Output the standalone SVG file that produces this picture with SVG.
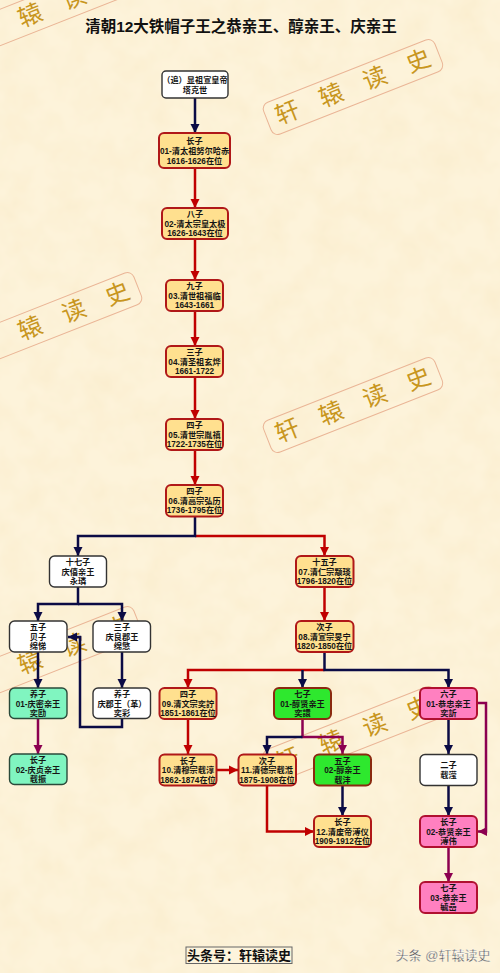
<svg xmlns="http://www.w3.org/2000/svg" width="500" height="973" viewBox="0 0 500 973">
<style>
text{font-family:"Liberation Sans","Noto Sans CJK SC",sans-serif}
.t{font-size:8.2px;font-weight:700;fill:#151515;text-anchor:middle}
.c{fill:none;stroke-width:2.5}
.r{stroke:#c00000}.d{stroke:#0b0b45}.p{stroke:#8c0050}
rect.n{stroke-width:2}
.y{fill:#ffe08f;stroke:#b01818}
.w{fill:#fff;stroke:#333;stroke-width:1.4!important}
.g{fill:#2ee82e;stroke:#8a2a10}
.k{fill:#ff80c0;stroke:#b01030}
.m{fill:#80f5c0;stroke:#2a4a3a;stroke-width:1.4!important}
.wb{fill:none;stroke:#eab596;stroke-width:1}
.wt{font-size:24px;fill:#c8961e;text-anchor:middle}
</style>
<defs>
<filter id="paper" x="0" y="0" width="100%" height="100%">
<feTurbulence type="fractalNoise" baseFrequency="0.035" numOctaves="3" seed="7"/>
<feColorMatrix type="matrix" values="0 0 0 0 0.96  0 0 0 0 0.85  0 0 0 0 0.62  1.5 0 0 0 -0.5"/>
</filter>
<marker id="ar" markerUnits="userSpaceOnUse" markerWidth="10" markerHeight="10" refX="9" refY="5" orient="auto"><path d="M0 .5L9 5L0 9.500Z" fill="#c00000"/></marker>
<marker id="ad" markerUnits="userSpaceOnUse" markerWidth="10" markerHeight="10" refX="9" refY="5" orient="auto"><path d="M0 .5L9 5L0 9.500Z" fill="#0b0b45"/></marker>
<marker id="ap" markerUnits="userSpaceOnUse" markerWidth="10" markerHeight="10" refX="9" refY="5" orient="auto"><path d="M0 .5L9 5L0 9.500Z" fill="#8c0050"/></marker>
<g id="wm">
<rect class="wb" x="-92" y="-17" width="184" height="34" rx="7"/>
<text class="wt" x="-70.500" y="8">轩</text>
<text class="wt" x="-23.500" y="8">辕</text>
<text class="wt" x="23.500" y="8">读</text>
<text class="wt" x="70.500" y="8">史</text>
</g>
</defs>
<rect width="500" height="973" fill="#fdf3da"/>
<rect width="500" height="973" filter="url(#paper)"/>
<g id="watermarks">
<use href="#wm" transform="translate(52,7) rotate(-21.500)"/>
<use href="#wm" transform="translate(353,87) rotate(-21.500)"/>
<use href="#wm" transform="translate(52,320) rotate(-21.500)"/>
<use href="#wm" transform="translate(353,405) rotate(-21.500)"/>
<use href="#wm" transform="translate(52,654) rotate(-21.500)"/>
<use href="#wm" transform="translate(353,734) rotate(-21.500)"/>
</g>
<text x="241" y="31.500" font-size="15.500" font-weight="700" text-anchor="middle" fill="#111">清朝12大铁帽子王之恭亲王、醇亲王、庆亲王</text>
<g id="connectors">
<path class="c d" d="M195 98V133" marker-end="url(#ad)"/>
<path class="c r" d="M195 168V208" marker-end="url(#ar)"/>
<path class="c r" d="M195 239V280" marker-end="url(#ar)"/>
<path class="c r" d="M195 311V346" marker-end="url(#ar)"/>
<path class="c r" d="M195 377V419" marker-end="url(#ar)"/>
<path class="c r" d="M195 450V485" marker-end="url(#ar)"/>
<path class="c r" d="M195 536H324.500V556" marker-end="url(#ar)"/>
<path class="c d" d="M195 517V536H78V556" marker-end="url(#ad)"/>
<path class="c d" d="M78 587V604H38V621" marker-end="url(#ad)"/>
<path class="c d" d="M78 604H122V621" marker-end="url(#ad)"/>
<path class="c d" d="M38 652V688" marker-end="url(#ad)"/>
<path class="c d" d="M122 652V688" marker-end="url(#ad)"/>
<path class="c p" d="M38 719V754" marker-end="url(#ap)"/>
<path class="c d" d="M122 719V727H80V637H68" marker-end="url(#ad)"/>
<path class="c r" d="M324.500 587V621" marker-end="url(#ar)"/>
<path class="c r" d="M324.500 670H188V688" marker-end="url(#ar)"/>
<path class="c d" d="M324.500 652V670H448.500V688" marker-end="url(#ad)"/>
<path class="c d" d="M302.500 670V688" marker-end="url(#ad)"/>
<path class="c r" d="M188 719V754" marker-end="url(#ar)"/>
<path class="c r" d="M217 770H238" marker-end="url(#ar)"/>
<path class="c p" d="M302.500 719V737H342.500V754" marker-end="url(#ap)"/>
<path class="c d" d="M302.500 737H267V754" marker-end="url(#ad)"/>
<path class="c d" d="M342.500 786V816" marker-end="url(#ad)"/>
<path class="c r" d="M267 786V831.500H314" marker-end="url(#ar)"/>
<path class="c d" d="M448.500 719V754" marker-end="url(#ad)"/>
<path class="c d" d="M448.500 785V816" marker-end="url(#ad)"/>
<path class="c p" d="M477 703H486V831.500H478" marker-end="url(#ap)"/>
<path class="c p" d="M448.500 847V882" marker-end="url(#ap)"/>
</g>
<g id="n0"><rect class="n w" x="162" y="71" width="66" height="27" rx="4"/><text class="t"><tspan x="195" y="83">（追）显祖宣皇帝</tspan><tspan x="195" y="93">塔克世</tspan></text></g>
<g id="n1"><rect class="n y" x="159" y="133" width="71" height="35" rx="5"/><text class="t"><tspan x="194.500" y="144">长子</tspan><tspan x="194.500" y="154">01-清太祖努尔哈赤</tspan><tspan x="194.500" y="163.500">1616-1626在位</tspan></text></g>
<g id="n2"><rect class="n y" x="162" y="208" width="66" height="31" rx="5"/><text class="t"><tspan x="195" y="217">八子</tspan><tspan x="195" y="226.500">02-清太宗皇太极</tspan><tspan x="195" y="236">1626-1643在位</tspan></text></g>
<g id="n3"><rect class="n y" x="166" y="280" width="57" height="31" rx="5"/><text class="t"><tspan x="194.500" y="289">九子</tspan><tspan x="194.500" y="298.500">03.清世祖福临</tspan><tspan x="194.500" y="308">1643-1661</tspan></text></g>
<g id="n4"><rect class="n y" x="166" y="346" width="57" height="31" rx="5"/><text class="t"><tspan x="194.500" y="355">三子</tspan><tspan x="194.500" y="364.500">04.清圣祖玄烨</tspan><tspan x="194.500" y="374">1661-1722</tspan></text></g>
<g id="n5"><rect class="n y" x="166" y="419" width="57" height="31" rx="5"/><text class="t"><tspan x="194.500" y="428">四子</tspan><tspan x="194.500" y="437.500">05.清世宗胤禛</tspan><tspan x="194.500" y="447">1722-1735在位</tspan></text></g>
<g id="n6"><rect class="n y" x="166" y="485" width="57" height="31.500" rx="5"/><text class="t"><tspan x="194.500" y="494">四子</tspan><tspan x="194.500" y="503.500">06.清高宗弘历</tspan><tspan x="194.500" y="513">1736-1795在位</tspan></text></g>
<g id="n7"><rect class="n w" x="49.500" y="556" width="57" height="31" rx="5"/><text class="t"><tspan x="78" y="565">十七子</tspan><tspan x="78" y="574.500">庆僖亲王</tspan><tspan x="78" y="584">永璘</tspan></text></g>
<g id="n8"><rect class="n w" x="9.500" y="621" width="57.500" height="31" rx="5"/><text class="t"><tspan x="38" y="630">五子</tspan><tspan x="38" y="639.500">贝子</tspan><tspan x="38" y="649">绵悌</tspan></text></g>
<g id="n9"><rect class="n w" x="93" y="621" width="57.500" height="31" rx="5"/><text class="t"><tspan x="122" y="630">三子</tspan><tspan x="122" y="639.500">庆良郡王</tspan><tspan x="122" y="649">绵慜</tspan></text></g>
<g id="n10"><rect class="n m" x="9.500" y="688" width="57.500" height="30.500" rx="5"/><text class="t"><tspan x="38" y="697">养子</tspan><tspan x="38" y="706.500">01-庆密亲王</tspan><tspan x="38" y="716">奕劻</tspan></text></g>
<g id="n11"><rect class="n m" x="9.500" y="754" width="57.500" height="30.500" rx="5"/><text class="t"><tspan x="38" y="763">长子</tspan><tspan x="38" y="772.500">02-庆贞亲王</tspan><tspan x="38" y="782">载振</tspan></text></g>
<g id="n12"><rect class="n w" x="93" y="688" width="57.500" height="30.500" rx="5"/><text class="t"><tspan x="122" y="697">养子</tspan><tspan x="122" y="706.500">庆郡王（革）</tspan><tspan x="122" y="716">奕彩</tspan></text></g>
<g id="n13"><rect class="n y" x="296" y="556" width="57.500" height="31" rx="5"/><text class="t"><tspan x="324.500" y="565">十五子</tspan><tspan x="324.500" y="574.500">07.清仁宗颙琰</tspan><tspan x="324.500" y="584">1796-1820在位</tspan></text></g>
<g id="n14"><rect class="n y" x="296" y="621" width="57.500" height="31" rx="5"/><text class="t"><tspan x="324.500" y="630">次子</tspan><tspan x="324.500" y="639.500">08.清宣宗旻宁</tspan><tspan x="324.500" y="649">1820-1850在位</tspan></text></g>
<g id="n15"><rect class="n y" x="159.500" y="688" width="57" height="31" rx="5"/><text class="t"><tspan x="188" y="697">四子</tspan><tspan x="188" y="706.500">09.清文宗奕詝</tspan><tspan x="188" y="716">1851-1861在位</tspan></text></g>
<g id="n16"><rect class="n g" x="274" y="688" width="57" height="31" rx="5"/><text class="t"><tspan x="302.500" y="697">七子</tspan><tspan x="302.500" y="706.500">01-醇贤亲王</tspan><tspan x="302.500" y="716">奕譞</tspan></text></g>
<g id="n17"><rect class="n k" x="420" y="688" width="57" height="31" rx="5"/><text class="t"><tspan x="448.500" y="697">六子</tspan><tspan x="448.500" y="706.500">01-恭忠亲王</tspan><tspan x="448.500" y="716">奕訢</tspan></text></g>
<g id="n18"><rect class="n y" x="159.500" y="754.500" width="57" height="31" rx="5"/><text class="t"><tspan x="188" y="763.500">长子</tspan><tspan x="188" y="773">10.清穆宗载淳</tspan><tspan x="188" y="782.500">1862-1874在位</tspan></text></g>
<g id="n19"><rect class="n y" x="238.500" y="754.500" width="57.500" height="31" rx="5"/><text class="t"><tspan x="267" y="763.500">次子</tspan><tspan x="267" y="773">11.清德宗载湉</tspan><tspan x="267" y="782.500">1875-1908在位</tspan></text></g>
<g id="n20"><rect class="n g" x="314" y="754.500" width="57" height="31" rx="5"/><text class="t"><tspan x="342.500" y="763.500">五子</tspan><tspan x="342.500" y="773">02-醇亲王</tspan><tspan x="342.500" y="782.500">载沣</tspan></text></g>
<g id="n21"><rect class="n w" x="420" y="754.500" width="57" height="31" rx="5"/><text class="t"><tspan x="448.500" y="768">二子</tspan><tspan x="448.500" y="778">载滢</tspan></text></g>
<g id="n22"><rect class="n y" x="314" y="816" width="57" height="31" rx="5"/><text class="t"><tspan x="342.500" y="825">长子</tspan><tspan x="342.500" y="834.500">12.清废帝溥仪</tspan><tspan x="342.500" y="844">1909-1912在位</tspan></text></g>
<g id="n23"><rect class="n k" x="420" y="816" width="57" height="31" rx="5"/><text class="t"><tspan x="448.500" y="825">长子</tspan><tspan x="448.500" y="834.500">02-恭贤亲王</tspan><tspan x="448.500" y="844">溥伟</tspan></text></g>
<g id="n24"><rect class="n k" x="420" y="882" width="57" height="31" rx="5"/><text class="t"><tspan x="448.500" y="891">七子</tspan><tspan x="448.500" y="900.500">03-恭亲王</tspan><tspan x="448.500" y="910">毓嵒</tspan></text></g>
<g id="footer"><rect x="186" y="947" width="106" height="16.500" fill="#fdf4dc" stroke="#666" stroke-width="1"/><text x="239" y="960" font-size="13" font-weight="700" text-anchor="middle" fill="#111">头条号：轩辕读史</text></g>
<text x="443" y="960" font-size="13" text-anchor="middle" fill="#444" stroke="#fff" stroke-width="0.3">头条 @轩辕读史</text>
</svg>
